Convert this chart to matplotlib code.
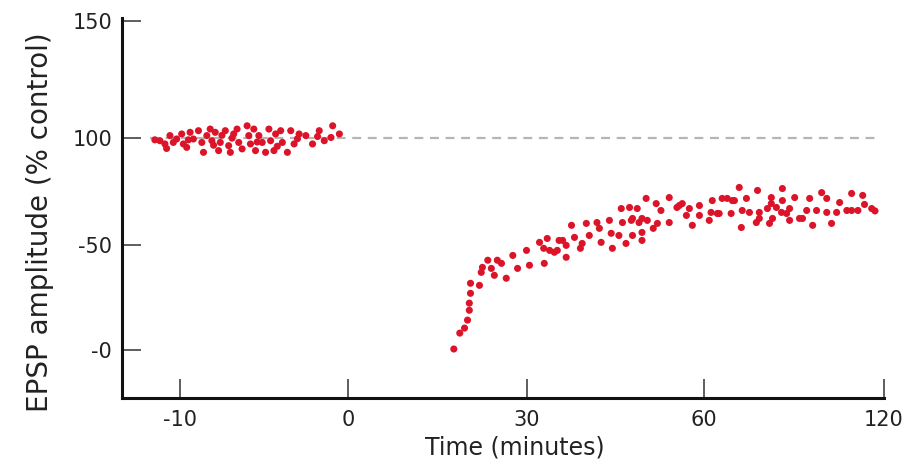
import numpy as np
import matplotlib
matplotlib.use("Agg")
import matplotlib.pyplot as plt

# ---------------- data ----------------
baseline_time = [-11.2, -10.9, -10.6, -10.4, -10.2, -9.9, -9.8, -9.6, -9.4, -9.2,
                 -8.9, -8.7, -8.6, -8.4, -8.2, -8.1, -7.9, -7.7, -7.6, -7.3,
                 -7.1, -7.0, -6.8, -6.6, -6.5, -6.3, -6.0, -5.9, -5.8, -5.6,
                 -5.5, -5.3, -5.1, -4.9, -4.7, -4.6, -4.4, -4.3, -4.0, -3.9,
                 -3.6, -3.4, -3.2, -2.9, -2.5, -2.1, -1.7, -1.4, -1.0, -0.9, -0.5,
                 -10.8, -9.5, -8.0, -6.9, -5.4, -4.2, -3.0, -1.8, -11.5, -7.5]
baseline_amp = [98.6, 97.1, 100.9, 97.8, 99.4, 101.6, 97.1, 95.5, 102.3, 99.4,
                103.0, 97.8, 93.2, 100.9, 103.7, 98.6, 102.3, 94.0, 97.8, 103.0,
                96.3, 93.2, 101.6, 103.7, 97.8, 94.8, 105.1, 100.9, 97.1, 103.7,
                94.0, 100.9, 97.8, 93.2, 103.7, 98.6, 94.0, 101.6, 103.0, 97.8,
                93.2, 103.0, 97.1, 101.6, 100.9, 97.1, 103.0, 98.6, 100.1, 105.1, 101.6,
                95.0, 99.0, 96.5, 99.8, 98.0, 96.0, 99.5, 100.5, 99.0, 101.0]

post_time = [17.8, 18.8, 19.6, 20.1, 20.4, 20.4, 20.6, 20.6, 22.1, 22.4,
             22.6, 23.5, 24.1, 24.6, 25.1, 25.8, 26.6, 27.7, 28.5, 30.0,
             30.5, 32.2, 33.0, 33.5, 33.9, 35.2, 36.1, 36.7, 37.6, 38.1,
             39.4, 40.1, 40.6, 41.9, 42.3, 42.6, 44.0, 44.3, 44.5, 46.0,
             46.2, 47.4, 47.7, 47.9, 48.7, 49.0, 49.5, 50.2, 50.4, 51.9,
             52.1, 52.7, 54.1, 54.1, 55.4, 56.3,
             47.9, 49.5, 45.6, 49.5, 51.4, 46.8, 35.5, 36.7, 34.7, 32.9, 39.1,
             71.7, 77.8, 86.1, 99.2, 109.2, 112.9, 90.2, 74.1, 82.4, 95.2,
             100.9, 105.2, 66.0, 62.7, 69.4, 59.2, 55.8, 57.5, 62.3, 65.0,
             69.0, 72.7, 75.1, 78.4, 81.1, 84.1, 85.8, 88.5, 94.2, 97.5,
             100.9, 104.2, 107.6, 109.2, 115.9, 57.0, 59.2, 61.7, 78.4, 82.8,
             88.5, 91.8, 58.0, 72.4, 77.4, 81.8, 96.2, 102.5,
             92.8, 87.5, 67.7, 70.1, 117.0, 111.3, 82.4, 86.1, 64.4, 113.5]
post_amp = [0.5, 8.1, 10.5, 14.3, 19.0, 22.4, 27.1, 31.9, 30.9, 37.1,
            39.5, 42.9, 39.0, 35.7, 42.9, 41.4, 34.3, 45.2, 39.0, 47.6,
            40.5, 51.4, 41.4, 53.2, 47.6, 47.6, 52.3, 44.3, 59.3, 53.7,
            50.9, 60.2, 54.6, 60.6, 57.9, 51.4, 61.6, 55.6, 48.6, 67.1,
            60.6, 67.6, 61.6, 54.6, 67.1, 60.6, 56.0, 71.8, 61.6, 69.4,
            60.2, 66.2, 72.2, 60.6, 67.6, 69.4,
            62.5, 62.5, 54.6, 52.3, 57.9, 50.9, 52.3, 50.0, 46.7, 48.6, 48.6,
            76.9, 75.5, 76.4, 74.5, 74.1, 73.2, 72.2, 71.8, 72.2, 71.8,
            71.8, 69.9, 71.8, 70.8, 70.8, 68.5, 68.5, 67.1, 65.3, 64.8,
            64.8, 66.2, 65.3, 65.3, 67.1, 67.6, 65.3, 67.1, 66.2, 66.2,
            65.3, 65.3, 66.2, 66.2, 67.1, 63.9, 63.9, 61.6, 62.5, 62.5,
            61.6, 62.5, 59.3, 58.3, 60.6, 60.2, 59.3, 60.2,
            62.5, 64.8, 71.8, 70.8, 66.0, 66.2, 69.4, 70.8, 64.8, 69.0]

x_ticks = [-10, 0, 30, 60, 120]
x_tick_labels = ["-10", "0", "30", "60", "120"]
y_ticks = [0, 50, 100, 150]
y_tick_labels = ["-0", "-50", "100", "150"]

# ---------------- piecewise axis scales ----------------
XV = np.array([-10.0, 0.0, 30.0, 60.0, 120.0])
XP = np.array([-0.9385, 0.0, 1.0, 1.994, 3.0])
YV = np.array([0.0, 50.0, 100.0, 150.0])
YP = np.array([0.0, 105.0, 213.0, 330.0])


def make_pw(a, b):
    def f(v):
        v = np.asarray(v, dtype=float)
        out = np.interp(v, a, b)
        sl = (b[1] - b[0]) / (a[1] - a[0])
        sr = (b[-1] - b[-2]) / (a[-1] - a[-2])
        out = np.where(v < a[0], b[0] + (v - a[0]) * sl, out)
        out = np.where(v > a[-1], b[-1] + (v - a[-1]) * sr, out)
        return out
    return f


fig = plt.figure(figsize=(9.24, 4.69), dpi=100)
ax = fig.add_axes([0.1320, 0.1514, 0.8247, 0.8102])
ax.set_xscale("function", functions=(make_pw(XV, XP), make_pw(XP, XV)))
ax.set_yscale("function", functions=(make_pw(YV, YP), make_pw(YP, YV)))

red = "#dc1429"
ax.hlines(100, -11.8, 118, colors="#b5b5b5", linestyles=(0, (4, 3)), linewidth=1.6, zorder=1)
ax.scatter(baseline_time, baseline_amp, s=26, color=red, edgecolors="none", zorder=3)
ax.scatter(post_time, post_amp, s=26, color=red, edgecolors="none", zorder=3)

ax.set_xlim(-13.46, 120)
ax.set_ylim(-22.9, 151.3)

ax.set_xticks(x_ticks)
ax.set_xticklabels(x_tick_labels)
ax.set_yticks(y_ticks)
ax.set_yticklabels(y_tick_labels)
ax.minorticks_off()

for s in ["top", "right"]:
    ax.spines[s].set_visible(False)
for s in ["left", "bottom"]:
    ax.spines[s].set_linewidth(2.2)
    ax.spines[s].set_color("#111111")

ax.tick_params(axis="both", direction="in", length=14, width=1.1, color="#333333",
               labelsize=15, labelcolor="#222222")
ax.tick_params(axis="x", pad=9)
ax.tick_params(axis="y", pad=7)

ax.set_xlabel("Time (minutes)", fontsize=17, color="#222222")
ax.set_ylabel("EPSP amplitude (% control)", fontsize=20, color="#222222")
ax.xaxis.set_label_coords(0.516, -0.098)
ax.yaxis.set_label_coords(-0.108, 0.463)
ax.yaxis.label.set_verticalalignment("center")

fig.savefig("out.png", dpi=100)
